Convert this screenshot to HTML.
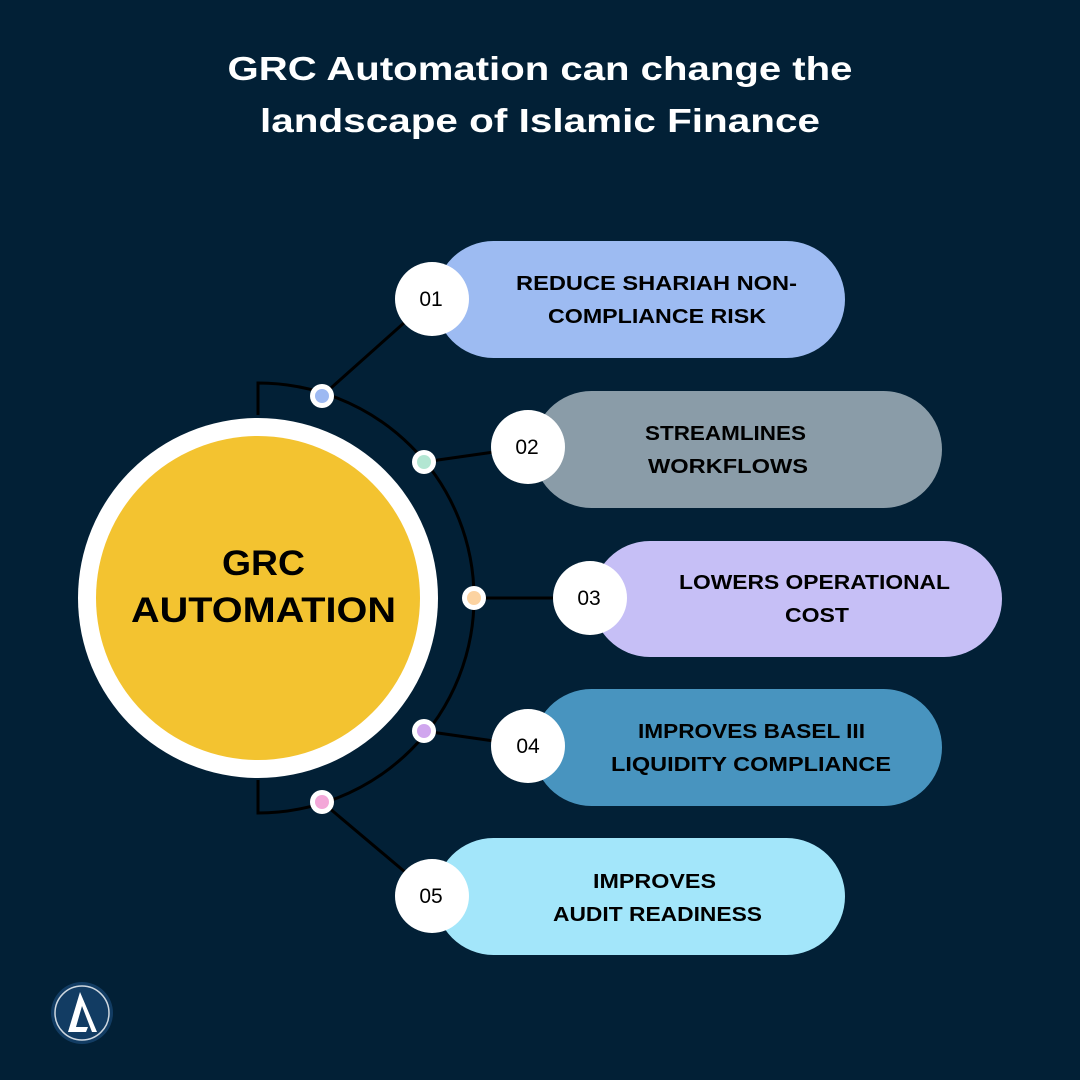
<!DOCTYPE html>
<html><head><meta charset="utf-8"><style>
html,body{margin:0;padding:0;background:#022036;}
svg{display:block}
text{font-family:"Liberation Sans",sans-serif;}
</style></head><body>
<svg width="1080" height="1080" viewBox="0 0 1080 1080" xmlns="http://www.w3.org/2000/svg">
<rect width="1080" height="1080" fill="#022036"/>
<text x="540" y="80" text-anchor="middle" fill="#fff" font-size="33" font-weight="bold" textLength="625" lengthAdjust="spacingAndGlyphs">GRC Automation can change the</text>
<text x="540" y="132" text-anchor="middle" fill="#fff" font-size="33" font-weight="bold" textLength="560" lengthAdjust="spacingAndGlyphs">landscape of Islamic Finance</text>

<path d="M258 415 L258 383 A216 215 0 0 1 258 813 L258 780" fill="none" stroke="#000" stroke-width="3"/>
<g stroke="#000" stroke-width="3">
<line x1="322" y1="396" x2="405" y2="322"/>
<line x1="424" y1="462" x2="494" y2="452"/>
<line x1="474" y1="598" x2="556" y2="598"/>
<line x1="424" y1="731" x2="494" y2="741"/>
<line x1="322" y1="802" x2="405" y2="872"/>
</g>
<circle cx="258" cy="598" r="180" fill="#fff"/>
<circle cx="258" cy="598" r="162" fill="#f3c330"/>
<text x="263.5" y="575" text-anchor="middle" font-size="35" font-weight="bold" fill="#000" textLength="83" lengthAdjust="spacingAndGlyphs">GRC</text>
<text x="263.5" y="622" text-anchor="middle" font-size="35" font-weight="bold" fill="#000" textLength="265" lengthAdjust="spacingAndGlyphs">AUTOMATION</text>

<g>
<circle cx="322" cy="396" r="12" fill="#fff"/><circle cx="322" cy="396" r="7" fill="#9db9f2"/>
<circle cx="424" cy="462" r="12" fill="#fff"/><circle cx="424" cy="462" r="7" fill="#b2e6d2"/>
<circle cx="474" cy="598" r="12" fill="#fff"/><circle cx="474" cy="598" r="7" fill="#fcd3a1"/>
<circle cx="424" cy="731" r="12" fill="#fff"/><circle cx="424" cy="731" r="7" fill="#d0a6ee"/>
<circle cx="322" cy="802" r="12" fill="#fff"/><circle cx="322" cy="802" r="7" fill="#f3a7d8"/>
</g>

<rect x="435" y="241" width="410" height="117" rx="58.5" fill="#9dbbf2"/>
<rect x="533" y="391" width="409" height="117" rx="58.5" fill="#8a9ca8"/>
<rect x="592" y="541" width="410" height="116" rx="58" fill="#c6bff6"/>
<rect x="533" y="689" width="409" height="117" rx="58.5" fill="#4894bf"/>
<rect x="435" y="838" width="410" height="117" rx="58.5" fill="#a3e6fa"/>

<g fill="#fff">
<circle cx="432" cy="299" r="37"/>
<circle cx="528" cy="447" r="37"/>
<circle cx="590" cy="598" r="37"/>
<circle cx="528" cy="746" r="37"/>
<circle cx="432" cy="896" r="37"/>
</g>
<g font-size="21" fill="#000" text-anchor="middle">
<text x="431" y="306">01</text>
<text x="527" y="454">02</text>
<text x="589" y="605">03</text>
<text x="528" y="753">04</text>
<text x="431" y="903">05</text>
</g>
<g font-size="20.5" font-weight="bold" fill="#000" text-anchor="middle" lengthAdjust="spacingAndGlyphs">
<text x="656.5" y="290" textLength="281" lengthAdjust="spacingAndGlyphs">REDUCE SHARIAH NON-</text>
<text x="657" y="323" textLength="218" lengthAdjust="spacingAndGlyphs">COMPLIANCE RISK</text>
<text x="725.5" y="440" textLength="161" lengthAdjust="spacingAndGlyphs">STREAMLINES</text>
<text x="728" y="473" textLength="160" lengthAdjust="spacingAndGlyphs">WORKFLOWS</text>
<text x="814.5" y="589" textLength="271" lengthAdjust="spacingAndGlyphs">LOWERS OPERATIONAL</text>
<text x="817" y="622" textLength="64" lengthAdjust="spacingAndGlyphs">COST</text>
<text x="751.5" y="738" textLength="227" lengthAdjust="spacingAndGlyphs">IMPROVES BASEL III</text>
<text x="751" y="771" textLength="280" lengthAdjust="spacingAndGlyphs">LIQUIDITY COMPLIANCE</text>
<text x="654.5" y="888" textLength="123" lengthAdjust="spacingAndGlyphs">IMPROVES</text>
<text x="657.5" y="921" textLength="209" lengthAdjust="spacingAndGlyphs">AUDIT READINESS</text>
</g>

<circle cx="82" cy="1013" r="31" fill="#123c63"/>
<circle cx="82" cy="1013" r="27" fill="none" stroke="#cfd8e0" stroke-width="1.5"/>
<path d="M80 992 L68 1032 L86 1032 L88 1027 L76 1027 L82 1006 L92 1032 L97 1032 Z" fill="#fff"/>
</svg>
</body></html>
